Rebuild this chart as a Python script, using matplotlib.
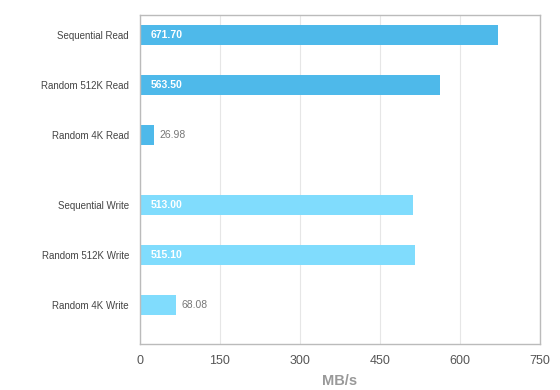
import matplotlib
matplotlib.use("Agg")
import matplotlib.pyplot as plt

plt.rcParams['font.family'] = ['Liberation Sans', 'DejaVu Sans']

categories = ["Sequential Read", "Random 512K Read", "Random 4K Read",
              "Sequential Write", "Random 512K Write", "Random 4K Write"]
values = [671.70, 563.50, 26.98, 513.00, 515.10, 68.08]
groups = ["read", "read", "read", "write", "write", "write"]
xticks = [0, 150, 300, 450, 600, 750]

positions = [0, 1, 2, 3.4, 4.4, 5.4]
colors = {"read": "#4EB9EA", "write": "#80DCFD"}

fig = plt.figure(figsize=(5.6, 3.9), dpi=100)
ax = fig.add_axes([0.25, 0.118, 0.714, 0.8435])

ax.barh(positions, values, height=0.4, color=[colors[g] for g in groups], zorder=2)

for p, v in zip(positions, values):
    txt = f"{v:.2f}"
    if v > 150:
        ax.text(20, p, txt, color="white", fontsize=7.5, fontweight="bold",
                va="center", ha="left", zorder=3)
    else:
        ax.text(v + 9, p, txt, color="#777777", fontsize=7.5,
                va="center", ha="left", zorder=3)

ax.set_xlim(0, 750)
ax.set_ylim(5.4 + 0.78, -0.4)
ax.set_yticks(positions)
ax.set_yticklabels(categories, fontsize=7, color="#444444")
ax.set_xticks(xticks)
ax.set_xticklabels([str(t) for t in xticks], fontsize=9, color="#555555")
ax.tick_params(axis="both", length=0)
ax.tick_params(axis="y", pad=8)
ax.tick_params(axis="x", pad=8)
ax.grid(axis="x", color="#e6e6e6", linewidth=0.8, zorder=0)
for s in ax.spines.values():
    s.set_color("#bbbbbb")
    s.set_linewidth(1)

ax.set_xlabel("MB/s", fontsize=10.5, color="#999999", fontweight="bold", labelpad=5)

fig.savefig("out.png", dpi=100)
